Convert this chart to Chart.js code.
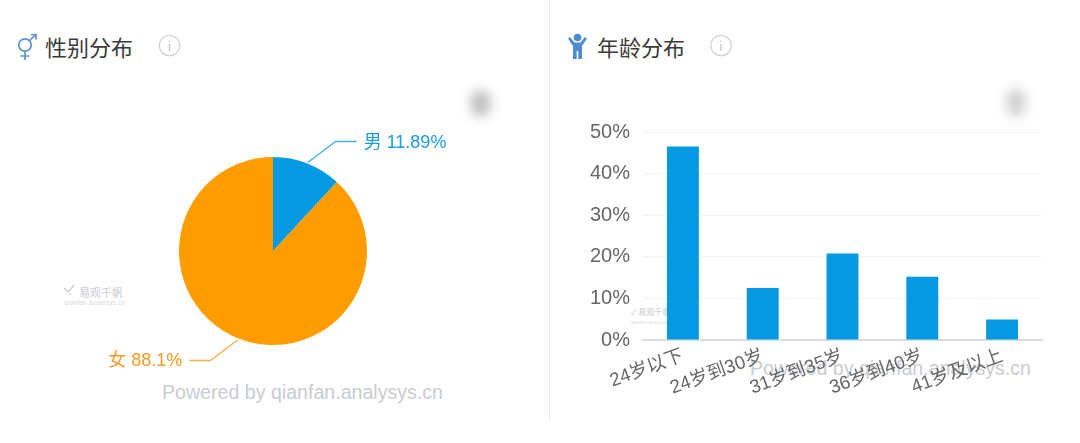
<!DOCTYPE html>
<html><head><meta charset="utf-8">
<script src="https://cdn.jsdelivr.net/npm/chart.js@4"></script>
<style>
html,body{margin:0;padding:0;background:#fff;width:1080px;height:443px;overflow:hidden;font-family:"Liberation Sans","Noto Sans CJK SC",sans-serif}
.abs{position:absolute}
canvas{position:absolute;top:0}
.title{font-size:22px;color:#3a3a3a;line-height:28px;white-space:nowrap;font-family:"Noto Sans CJK SC",sans-serif}
.blob{background:#bdbdbd;filter:blur(6px);border-radius:8px}
.wm{white-space:nowrap;color:#c9ccd0}
</style></head><body>
<div class="abs" style="left:549px;top:0;width:1px;height:421px;background:#e9e9e9"></div>

<svg class="abs" style="left:15px;top:33px" width="24" height="28" viewBox="0 0 24 28" fill="none" stroke="#5d93c9" stroke-width="1.7">
<circle cx="10" cy="12" r="6.2"/><path d="M10 18.5V27M5.5 23H14.5M14.5 7.5L20.5 1.8M16 1.5H21V6.5"/></svg>
<div class="abs title" style="left:45px;top:32px">性别分布</div>
<svg class="abs" style="left:158px;top:34px" width="24" height="24" fill="none"><circle cx="11.5" cy="11.5" r="10.2" stroke="#d5d5d5" stroke-width="1.3"/><path d="M11.5 10v7M11.5 6.5v1.6" stroke="#c4c4c4" stroke-width="1.3"/></svg>

<svg class="abs" style="left:567px;top:33px" width="22" height="27" viewBox="0 0 22 27" fill="#4f8ccb">
<circle cx="10.5" cy="4.5" r="3.8"/><path d="M1 5.5 L3 4 L7.5 9.5 H13.5 L18 4 L20 5.5 L15 13 V26 H11.3 V18 H9.7 V26 H6 V13Z"/></svg>
<div class="abs title" style="left:597px;top:32px">年龄分布</div>
<svg class="abs" style="left:709px;top:34px" width="24" height="24" fill="none"><circle cx="12" cy="11.5" r="10.2" stroke="#d5d5d5" stroke-width="1.3"/><path d="M12 10v7M12 6.5v1.6" stroke="#c4c4c4" stroke-width="1.3"/></svg>

<div class="abs blob" style="left:471px;top:91px;width:19px;height:25px"></div>
<div class="abs blob" style="left:1007px;top:89px;width:18px;height:27px;background:#cfcfcf"></div>

<div class="abs wm" style="left:79px;top:284px;font-size:11px;font-family:'Noto Sans CJK SC'">易观千帆</div>
<div class="abs wm" style="left:64px;top:299px;font-size:7px;color:#dcdde0">qianfan.analysys.cn</div>
<svg class="abs" style="left:63px;top:284px" width="14" height="12" fill="none" stroke="#c9ccd0" stroke-width="1.5"><path d="M1 4L5 8L11 1M7 9l1 2"/></svg>
<div class="abs wm" style="left:162px;top:381px;font-size:19.6px">Powered by qianfan.analysys.cn</div>

<div class="abs wm" style="left:631px;top:306px;font-size:8px;font-family:'Noto Sans CJK SC'">✓ 易观千帆</div>
<div class="abs wm" style="left:631px;top:319px;font-size:5px;color:#dcdde0">qianfan.analysys.cn</div>
<div class="abs wm" style="left:750px;top:357px;font-size:19.6px">Powered by qianfan.analysys.cn</div>

<canvas id="pie" width="549" height="443" style="left:0;width:549px;height:443px"></canvas>
<canvas id="bar" width="530" height="443" style="left:550px;width:530px;height:443px"></canvas>

<script>
const genderLabels = ["男", "女"];
const genderValues = [11.89, 88.1];
const genderColors = ["#0499e0", "#ff9c00"];
const genderTextColors = ["#1a9be0", "#f79a26"];
const ageLabels = ["24岁以下", "24岁到30岁", "31岁到35岁", "36岁到40岁", "41岁及以上"];
const ageValues = [46.5, 12.5, 20.8, 15.2, 4.9];
const ageTicks = [0, 10, 20, 30, 40, 50];

Chart.defaults.font.family = '"Liberation Sans","Noto Sans CJK SC",sans-serif';
Chart.defaults.animation = false;

const calloutPlugin = {
  id: "callout",
  afterDatasetsDraw(chart) {
    const ctx = chart.ctx;
    chart.getDatasetMeta(0).data.forEach((arc, i) => {
      const mid = (arc.startAngle + arc.endAngle) / 2;
      const c = Math.cos(mid), s = Math.sin(mid);
      const R = arc.outerRadius;
      const dir = c >= 0 ? 1 : -1, vdir = s >= 0 ? 1 : -1;
      const x0 = arc.x + c * (R + 1), y0 = arc.y + s * (R + 1);
      const x1 = x0 + dir * 28, y1 = y0 + vdir * 21;
      const x2 = x1 + dir * 21;
      ctx.save();
      ctx.strokeStyle = genderTextColors[i];
      ctx.globalAlpha = 0.8;
      ctx.lineWidth = 1.4;
      ctx.beginPath(); ctx.moveTo(x0, y0); ctx.lineTo(x1, y1); ctx.lineTo(x2, y1); ctx.stroke();
      ctx.globalAlpha = 1;
      ctx.fillStyle = genderTextColors[i];
      ctx.font = '18px "Liberation Sans","Noto Sans CJK SC",sans-serif';
      ctx.textBaseline = "middle";
      ctx.textAlign = dir > 0 ? "left" : "right";
      ctx.fillText(genderLabels[i] + " " + genderValues[i] + "%", x2 + dir * 7, y1 + 1);
      ctx.restore();
    });
  }
};

new Chart(document.getElementById("pie"), {
  type: "pie",
  data: { labels: genderLabels, datasets: [{ data: genderValues, backgroundColor: genderColors, borderWidth: 0 }] },
  options: {
    responsive: false,
    layout: { padding: { left: 179, right: 549 - 367, top: 157, bottom: 443 - 345 } },
    plugins: { legend: { display: false }, tooltip: { enabled: false } }
  },
  plugins: [calloutPlugin]
});

new Chart(document.getElementById("bar"), {
  type: "bar",
  data: { labels: ageLabels, datasets: [{ data: ageValues, backgroundColor: "#0499e0", borderWidth: 0, categoryPercentage: 1, barPercentage: 0.4 }] },
  options: {
    responsive: false,
    layout: { padding: { left: 0, right: 38, top: 132, bottom: 0 } },
    plugins: { legend: { display: false }, tooltip: { enabled: false } },
    scales: {
      x: {
        grid: { display: false, drawTicks: false },
        border: { color: "#dcdcdc", width: 2 },
        afterFit(s) { s.height = 103; },
        ticks: { color: "#666", font: { size: 18.7 }, minRotation: 20, maxRotation: 20, autoSkip: false, padding: 5 }
      },
      y: {
        min: 0, max: 50,
        afterFit(s) { s.width = 93; },
        afterBuildTicks(s) { s.ticks = ageTicks.map(v => ({ value: v })); },
        grid: { color: "#f2f2f2", drawTicks: false },
        border: { display: false },
        ticks: { color: "#666", font: { size: 20 }, padding: 13, callback: v => v + "%" }
      }
    }
  }
});
</script>
</body></html>
